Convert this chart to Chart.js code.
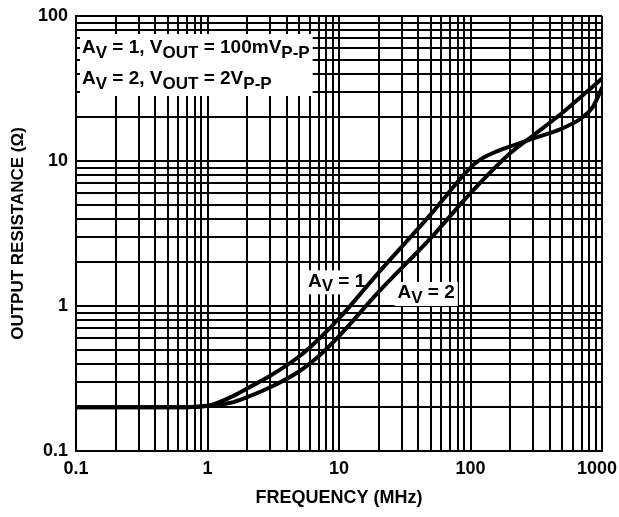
<!DOCTYPE html>
<html>
<head>
<meta charset="utf-8">
<script src="https://cdn.jsdelivr.net/npm/chart.js@4.4.1/dist/chart.umd.min.js"></script>
<style>
  html, body { margin: 0; padding: 0; background: #fff; }
  #wrap { width: 619px; height: 517px; position: relative; }
</style>
</head>
<body>
<div id="wrap"><canvas id="chart"></canvas></div>
<script>
const xDecades = [0.1, 1, 10, 100, 1000];
const xTickLabels = ["0.1", "1", "10", "100", "1000"];
const yDecades = [0.1, 1, 10, 100];
const yTickLabels = ["0.1", "1", "10", "100"];

// A_V = 1 curve
const av1Freq = [0.1, 0.3, 0.6, 1, 1.5, 2, 3, 5, 7, 10, 20, 50, 100, 120, 150, 200, 300, 500, 700, 850, 1000];
const av1Res = [0.2, 0.2, 0.2, 0.205, 0.235, 0.27, 0.33, 0.45, 0.59, 0.82, 1.7, 4.3, 9.0, 10.3, 11.4, 12.6, 14.3, 16.8, 19.8, 23.5, 32];

// A_V = 2 curve
const av2Freq = [0.1, 0.3, 0.6, 1, 1.5, 2, 3, 5, 7, 10, 20, 50, 100, 200, 300, 500, 700, 1000];
const av2Res = [0.2, 0.2, 0.2, 0.205, 0.215, 0.235, 0.275, 0.355, 0.45, 0.62, 1.25, 2.95, 6.0, 11.3, 15.0, 21.5, 28, 37];

const FONT = "'Liberation Sans', Arial, sans-serif";

function gridValues(decades) {
  const vals = [];
  for (let i = 0; i < decades.length - 1; i++) {
    for (let k = 1; k <= 9; k++) {
      vals.push(decades[i] * k);
    }
  }
  vals.push(decades[decades.length - 1]);
  return vals;
}

function decadeLabel(value, decades, labels) {
  for (let i = 0; i < decades.length; i++) {
    if (Math.abs(value - decades[i]) < decades[i] * 1e-6) {
      return labels[i];
    }
  }
  return "";
}

function toPoints(xs, ys) {
  return xs.map((x, i) => ({ x: x, y: ys[i] }));
}

// text with subscripts: parts = [[text, isSub], ...]
function drawRich(ctx, parts, x, y) {
  let cx = x;
  parts.forEach(([text, sub]) => {
    ctx.font = sub ? "bold 17px " + FONT : "bold 19px " + FONT;
    ctx.fillText(text, cx, sub ? y + 5 : y);
    cx += ctx.measureText(text).width;
  });
  return cx - x;
}

function richWidth(ctx, parts) {
  let w = 0;
  parts.forEach(([text, sub]) => {
    ctx.font = sub ? "bold 17px " + FONT : "bold 19px " + FONT;
    w += ctx.measureText(text).width;
  });
  return w;
}

const legendLine1 = [["A", false], ["V", true], [" = 1, V", false], ["OUT", true], [" = 100mV", false], ["P-P", true]];
const legendLine2 = [["A", false], ["V", true], [" = 2, V", false], ["OUT", true], [" = 2V", false], ["P-P", true]];
const curveLabel1 = [["A", false], ["V", true], [" = 1", false]];
const curveLabel2 = [["A", false], ["V", true], [" = 2", false]];

const annotationPlugin = {
  id: "annotations",
  beforeDatasetsDraw(chart) {
    const ctx = chart.ctx;
    const area = chart.chartArea;
    const xs = chart.scales.x;
    const ys = chart.scales.y;
    ctx.save();
    ctx.textBaseline = "middle";
    ctx.textAlign = "left";

    // legend box in the top left corner
    const lx = area.left + 6;
    ctx.fillStyle = "#fff";
    ctx.fillRect(lx - 2, area.top + 18, richWidth(ctx, legendLine1) + 5, 62);
    ctx.fillStyle = "#000";
    drawRich(ctx, legendLine1, lx, area.top + 32);
    drawRich(ctx, legendLine2, lx, area.top + 63);

    // curve labels
    const labels = [
      { parts: curveLabel1, f: 9.6, r: 1.48 },
      { parts: curveLabel2, f: 46, r: 1.23 },
    ];
    labels.forEach((l) => {
      const w = richWidth(ctx, l.parts);
      const cx = xs.getPixelForValue(l.f);
      const cy = ys.getPixelForValue(l.r);
      ctx.fillStyle = "#fff";
      ctx.fillRect(cx - w / 2 - 3, cy - 11, w + 6, 24);
      ctx.fillStyle = "#000";
      drawRich(ctx, l.parts, cx - w / 2, cy);
    });
    ctx.restore();
  },
};

const ctx = document.getElementById("chart").getContext("2d");
new Chart(ctx, {
  type: "line",
  data: {
    datasets: [
      {
        label: "AV = 1",
        data: toPoints(av1Freq, av1Res),
        borderColor: "#000",
        borderWidth: 4,
        pointRadius: 0,
        cubicInterpolationMode: "monotone",
        borderCapStyle: "round",
        borderJoinStyle: "round",
        fill: false,
      },
      {
        label: "AV = 2",
        data: toPoints(av2Freq, av2Res),
        borderColor: "#000",
        borderWidth: 4,
        pointRadius: 0,
        cubicInterpolationMode: "monotone",
        borderCapStyle: "round",
        borderJoinStyle: "round",
        fill: false,
      },
    ],
  },
  options: {
    responsive: true,
    maintainAspectRatio: false,
    animation: false,
    devicePixelRatio: 1,
    layout: { padding: { top: 16, right: 17, left: 0, bottom: 0 } },
    plugins: {
      legend: { display: false },
      tooltip: { enabled: false },
    },
    scales: {
      x: {
        type: "logarithmic",
        min: 0.1,
        max: 1000,
        afterBuildTicks: (scale) => {
          scale.ticks = gridValues(xDecades).map((v) => ({ value: v }));
        },
        afterFit: (scale) => {
          scale.height = 66;
          scale.paddingLeft = 0;
          scale.paddingRight = 0;
        },
        ticks: {
          autoSkip: false,
          maxRotation: 0,
          padding: 7,
          color: "#000",
          font: { family: FONT, size: 18, weight: "bold" },
          callback: (value, index, ticks) => {
            const label = decadeLabel(value, xDecades, xTickLabels);
            // keep the last label inside the canvas
            return index === ticks.length - 1 ? label + "  " : label;
          },
        },
        grid: { color: "#000", lineWidth: 2, drawTicks: false },
        border: { color: "#000", width: 2 },
        title: {
          display: true,
          text: "FREQUENCY (MHz)",
          color: "#000",
          font: { family: FONT, size: 18, weight: "bold" },
          padding: { top: 0, bottom: 8 },
        },
      },
      y: {
        type: "logarithmic",
        min: 0.1,
        max: 100,
        afterBuildTicks: (scale) => {
          scale.ticks = gridValues(yDecades).map((v) => ({ value: v }));
        },
        afterFit: (scale) => {
          scale.width = 76;
          scale.paddingTop = 0;
          scale.paddingBottom = 0;
        },
        ticks: {
          autoSkip: false,
          padding: 8,
          color: "#000",
          font: { family: FONT, size: 18, weight: "bold" },
          callback: (value) => decadeLabel(value, yDecades, yTickLabels),
        },
        grid: { color: "#000", lineWidth: 2, drawTicks: false },
        border: { color: "#000", width: 2 },
        title: {
          display: true,
          text: "OUTPUT RESISTANCE (Ω)",
          color: "#000",
          font: { family: FONT, size: 17, weight: "bold" },
          padding: { top: 8, bottom: 0 },
        },
      },
    },
  },
  plugins: [annotationPlugin],
});
</script>
</body>
</html>
